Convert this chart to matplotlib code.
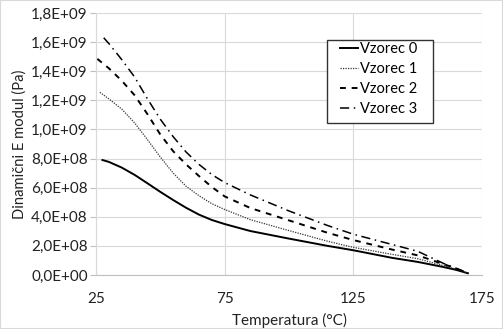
import numpy as np
import matplotlib
matplotlib.use("Agg")
import matplotlib.pyplot as plt
from matplotlib.ticker import FuncFormatter

plt.rcParams['font.family'] = ['Lato', 'DejaVu Sans']

# temperature (°C) and dynamic modulus (Pa, in 1e9 units)
t0 = [27.5, 30, 35, 40, 45, 50, 55, 60, 65, 70, 75, 85, 100, 115, 125, 140, 150, 160, 165, 169.5]
v0 = [0.79, 0.777, 0.738, 0.688, 0.63, 0.571, 0.515, 0.462, 0.415, 0.378, 0.35, 0.302, 0.25, 0.20, 0.17, 0.118, 0.09, 0.055, 0.035, 0.012]

t1 = [26.5, 30, 35, 40, 45, 50, 55, 60, 65, 70, 75, 85, 100, 115, 125, 140, 150, 160, 165, 169.5]
v1 = [1.255, 1.21, 1.14, 1.045, 0.93, 0.81, 0.70, 0.61, 0.545, 0.49, 0.45, 0.38, 0.305, 0.232, 0.19, 0.142, 0.112, 0.065, 0.04, 0.012]

t2 = [25.5, 30, 35, 40, 45, 50, 55, 60, 65, 70, 75, 85, 100, 115, 125, 140, 150, 160, 165, 169.5]
v2 = [1.485, 1.42, 1.335, 1.235, 1.105, 0.965, 0.85, 0.76, 0.68, 0.605, 0.54, 0.46, 0.375, 0.29, 0.24, 0.175, 0.135, 0.075, 0.045, 0.012]

t3 = [28, 30, 35, 40, 45, 50, 55, 60, 65, 70, 75, 85, 100, 115, 125, 140, 150, 160, 165, 169.5]
v3 = [1.63, 1.59, 1.48, 1.36, 1.21, 1.07, 0.95, 0.845, 0.76, 0.69, 0.635, 0.55, 0.44, 0.34, 0.28, 0.21, 0.163, 0.08, 0.045, 0.015]

labels = ['Vzorec 0', 'Vzorec 1', 'Vzorec 2', 'Vzorec 3']

W, H = 503, 329
fig = plt.figure(figsize=(5.03, 3.29), dpi=100)
ax = fig.add_axes([96/W, 1-275/H, (482-96)/W, (275-13)/H])

ax.plot(t0, np.array(v0)*1e9, color='black', lw=1.4, ls='-', label=labels[0])
ax.plot(t1, np.array(v1)*1e9, color='#333333', lw=0.9, ls=(0, (1, 1)), label=labels[1])
ax.plot(t2, np.array(v2)*1e9, color='black', lw=1.4, ls=(0, (3, 3)), label=labels[2])
ax.plot(t3, np.array(v3)*1e9, color='black', lw=1.1, ls=(0, (6, 3, 1, 3)), label=labels[3])

ax.set_xlim(25, 175)
ax.set_ylim(0, 1.8e9)
ax.set_xticks([25, 75, 125, 175])
ax.set_yticks(np.arange(0, 1.81e9, 0.2e9))

def fmt(v, pos):
    if v == 0:
        return '0,0E+00'
    e = int(np.floor(np.log10(abs(v))))
    m = v / 10**e
    return ('%.1fE+%02d' % (m, e)).replace('.', ',')

ax.yaxis.set_major_formatter(FuncFormatter(fmt))
ax.grid(True, color='#d9d9d9', lw=0.8)
ax.set_axisbelow(True)
for s in ['top', 'right']:
    ax.spines[s].set_visible(False)
ax.spines['left'].set_color('#d9d9d9')
ax.spines['bottom'].set_color('#bfbfbf')
ax.tick_params(axis='y', length=4, color='#bfbfbf', labelsize=11, colors='#222222', pad=2)
ax.tick_params(axis='x', length=0, labelsize=11, colors='#222222', pad=12)

ax.set_xlabel('Temperatura (°C)', fontsize=11, color='#222222', labelpad=5)
ax.set_ylabel('Dinamični E modul (Pa)', fontsize=10.6, color='#222222', labelpad=3)

# legend without its own frame; box drawn separately
box = plt.Rectangle((327/W, 1-123/H), (433-327)/W, (123-40)/H, transform=fig.transFigure,
                    facecolor='white', edgecolor='#333333', lw=1.0, zorder=4, clip_on=False)
ax.add_patch(box)
leg = ax.legend(loc='upper left', bbox_to_anchor=(340/W, 1-42/H), bbox_transform=fig.transFigure,
                fontsize=10.5, handlelength=1.25, handletextpad=0.15, frameon=False,
                borderpad=0, labelspacing=0.42, borderaxespad=0)
leg.set_zorder(5)

fig.patches.append(plt.Rectangle((0, 0), 1, 1, transform=fig.transFigure, fill=False,
                                 edgecolor='#d9d9d9', lw=1.5))

fig.savefig('out.png', dpi=100)
